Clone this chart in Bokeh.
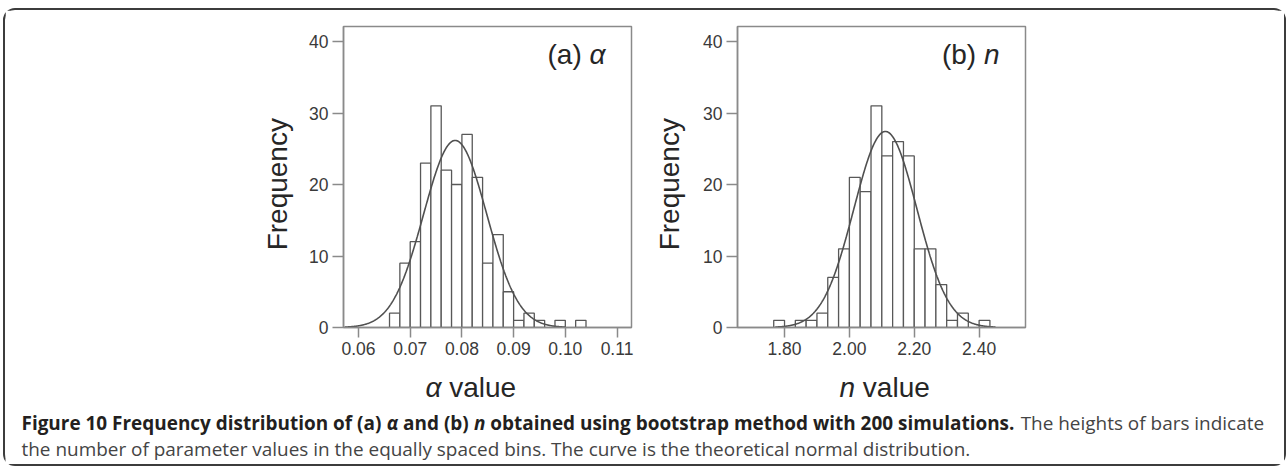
import glob
import os
import numpy as np
from bokeh.plotting import figure
from bokeh.layouts import column, row
from bokeh.models import Range1d, FixedTicker, NumeralTickFormatter, Label
from bokeh.embed import file_html
from bokeh.resources import INLINE

# ---------------- data ----------------
alpha_bin_edges = [0.066, 0.068, 0.070, 0.072, 0.074, 0.076, 0.078, 0.080, 0.082, 0.084,
                   0.086, 0.088, 0.090, 0.092, 0.094, 0.096, 0.098, 0.100, 0.102, 0.104]
alpha_counts = [2, 9, 12, 23, 31, 22, 20, 27, 21, 9, 13, 5, 1, 2, 1, 0, 1, 0, 1]
alpha_ticks = [0.06, 0.07, 0.08, 0.09, 0.10, 0.11]
alpha_mean = 0.0787
alpha_sd = 0.0061

n_bin_edges = [1.7667, 1.8000, 1.8333, 1.8667, 1.9000, 1.9333, 1.9667, 2.0000, 2.0333, 2.0667,
               2.1000, 2.1333, 2.1667, 2.2000, 2.2333, 2.2667, 2.3000, 2.3333, 2.3667, 2.4000, 2.4333]
n_counts = [1, 0, 1, 1, 2, 7, 11, 21, 19, 31, 24, 26, 24, 11, 11, 6, 1, 2, 0, 1]
n_ticks = [1.80, 2.00, 2.20, 2.40]
n_mean = 2.111
n_sd = 0.097

freq_ticks = [0, 10, 20, 30, 40]
n_simulations = 200

y_label = "Frequency"
caption_line1 = [
    ("Figure 10 Frequency distribution of (a) ", "bold"),
    ("α", "bold italic"),
    (" and (b) ", "bold"),
    ("n", "bold italic"),
    (" obtained using bootstrap method with 200 simulations.", "bold"),
    (" The heights of bars indicate", "normal"),
]
caption_line2 = [
    ("the number of parameter values in the equally spaced bins. The curve is the theoretical normal distribution.", "normal"),
]

# ---------------- styling / layout ----------------
FRAME_C = "#8a8a8a"
BAR_C = "#585858"
CURVE_C = "#505050"
TICK_LABEL_C = "#3a3a3a"
LABEL_C = "#262626"
CAP_BOLD_C = "#231f20"
CAP_REG_C = "#444444"
AX_FONT = "Liberation Sans"
CAP_FONT = "Open Sans"
CAP_TARGET_W = 1241.0

CONTENT_W = 1279
TOP_H = 355
BOT_H = 99
MB_TOP = 16
FRAME_H = 301
MB_BOTTOM = TOP_H - MB_TOP - FRAME_H
Y_TOP = 42.1
TITLE_SIZE = 28
XLABEL_SIZE = 28

FONT_DIRS = ["/usr/share/fonts", "/usr/local/share/fonts",
             os.path.expanduser("~/.fonts"), os.path.expanduser("~/.local/share/fonts")]


def find_font(*names):
    for d in FONT_DIRS:
        for n in names:
            hits = glob.glob(os.path.join(d, "**", n), recursive=True)
            if hits:
                return sorted(hits)[0]
    return None


FONT_FILES = {
    ("Liberation Sans", "normal"): find_font("LiberationSans-Regular.ttf"),
    ("Liberation Sans", "italic"): find_font("LiberationSans-Italic.ttf"),
    ("Open Sans", "normal"): find_font("OpenSans-Regular.ttf", "OpenSans-Regular.otf"),
    ("Open Sans", "bold"): find_font("OpenSans-Bold.ttf", "OpenSans-Bold.otf"),
    ("Open Sans", "bold italic"): find_font("OpenSans-BoldItalic.ttf", "OpenSans-BoldItalic.otf"),
}

try:
    from PIL import ImageFont
except Exception:  # pragma: no cover
    ImageFont = None


def text_width(text, font, style, size):
    path = FONT_FILES.get((font, style))
    if path and ImageFont is not None:
        try:
            f = ImageFont.truetype(path, int(round(size * 4)))
            return f.getlength(text) / 4.0
        except Exception:
            pass
    factor = 0.6 if "bold" in style else 0.53
    return factor * size * len(text)


def blank_fig(w, h):
    f = figure(width=w, height=h, x_range=Range1d(0, w), y_range=Range1d(h, 0),
               output_backend="svg", toolbar_location=None, x_axis_type=None, y_axis_type=None,
               min_border=0)
    f.outline_line_color = None
    f.xgrid.visible = False
    f.ygrid.visible = False
    f.background_fill_color = "white"
    f.border_fill_color = "white"
    return f


def make_hist(edges, counts, mean, sd, ticks, x_range, fig_w, mb_l, mb_r, tag, sym):
    p = figure(width=fig_w, height=TOP_H, x_range=Range1d(*x_range), y_range=Range1d(0, Y_TOP),
               output_backend="svg", toolbar_location=None,
               min_border_left=mb_l, min_border_right=mb_r,
               min_border_top=MB_TOP, min_border_bottom=MB_BOTTOM)
    p.background_fill_color = "white"
    p.border_fill_color = "white"
    p.outline_line_color = FRAME_C
    p.outline_line_width = 1.5
    p.xgrid.visible = False
    p.ygrid.visible = False

    left = np.array(edges[:-1], dtype=float)
    right = np.array(edges[1:], dtype=float)
    top = np.array(counts, dtype=float)
    m = top > 0
    p.quad(left=left[m], right=right[m], bottom=0, top=top[m],
           fill_color="white", line_color=BAR_C, line_width=1.3)

    # theoretical normal curve scaled to the histogram
    bw = (edges[-1] - edges[0]) / len(counts)
    xs = np.linspace(mean - 3.5 * sd, mean + 3.5 * sd, 400)
    ys = n_simulations * bw / (sd * np.sqrt(2 * np.pi)) * np.exp(-0.5 * ((xs - mean) / sd) ** 2)
    p.line(xs, ys, line_color=CURVE_C, line_width=1.6)

    xa = p.xaxis[0]
    ya = p.yaxis[0]
    xa.ticker = FixedTicker(ticks=ticks)
    xa.formatter = NumeralTickFormatter(format="0.00")
    ya.ticker = FixedTicker(ticks=freq_ticks)
    for ax, tick_out in ((xa, 10), (ya, 11)):
        ax.axis_line_color = FRAME_C
        ax.axis_line_width = 1.5
        ax.major_tick_line_color = FRAME_C
        ax.major_tick_line_width = 1.5
        ax.major_tick_out = tick_out
        ax.major_tick_in = 0
        ax.minor_tick_out = 0
        ax.minor_tick_in = 0
        ax.major_label_text_font = AX_FONT
        ax.major_label_text_font_size = "17.5px"
        ax.major_label_text_color = TICK_LABEL_C
        ax.major_label_standoff = 4

    # panel tag, e.g. "(a) α"
    ts = TITLE_SIZE
    w_sym = text_width(sym, AX_FONT, "italic", ts)
    w_sp = text_width(" ", AX_FONT, "normal", ts)
    p.add_layout(Label(x=x_range[1], y=Y_TOP, x_offset=-26, y_offset=-28, text=sym,
                       text_align="right", text_baseline="alphabetic", text_font=AX_FONT,
                       text_font_style="italic", text_font_size=f"{ts}px", text_color=LABEL_C))
    p.add_layout(Label(x=x_range[1], y=Y_TOP, x_offset=-26 - w_sym - w_sp, y_offset=-28,
                       text=f"({tag})", text_align="right", text_baseline="alphabetic",
                       text_font=AX_FONT, text_font_style="normal", text_font_size=f"{ts}px",
                       text_color=LABEL_C))
    return p


def freq_fig(w, cx, cy):
    f = blank_fig(w, TOP_H)
    f.add_layout(Label(x=cx, y=cy, text=y_label, angle=np.pi / 2, text_align="center",
                       text_baseline="middle", text_font=AX_FONT, text_font_size="28px",
                       text_color=LABEL_C))
    return f


f_a = freq_fig(292, 272, 186)
p_alpha = make_hist(alpha_bin_edges, alpha_counts, alpha_mean, alpha_sd, alpha_ticks,
                    (0.0571, 0.1128), 353, 46, 19, "a", "α")
f_b = freq_fig(43, 19, 186)
p_n = make_hist(n_bin_edges, n_counts, n_mean, n_sd, n_ticks,
                (1.655, 2.543), 591, 44, 259, "b", "n")

# ---------------- bottom: x-axis titles + caption ----------------
bot = blank_fig(CONTENT_W, BOT_H)


def add_axis_title(sym, x_left, baseline):
    w_sym = text_width(sym, AX_FONT, "italic", XLABEL_SIZE)
    w_sp = text_width(" ", AX_FONT, "normal", XLABEL_SIZE)
    bot.add_layout(Label(x=x_left, y=baseline, text=sym, text_align="left", text_baseline="alphabetic",
                         text_font=AX_FONT, text_font_style="italic",
                         text_font_size=f"{XLABEL_SIZE}px", text_color=LABEL_C))
    bot.add_layout(Label(x=x_left + w_sym + w_sp, y=baseline, text="value", text_align="left",
                         text_baseline="alphabetic", text_font=AX_FONT, text_font_style="normal",
                         text_font_size=f"{XLABEL_SIZE}px", text_color=LABEL_C))


add_axis_title("α", 420, 22)
add_axis_title("n", 834, 22)

# caption font size chosen so the first line spans the same width as in the reference
w_ref = sum(text_width(t, CAP_FONT, s, 16.0) for t, s in caption_line1)
CAP_SIZE = round(16.0 * CAP_TARGET_W / w_ref, 2)


def add_caption_line(pieces, x0, y):
    x = x0
    for text, style in pieces:
        lead = len(text) - len(text.lstrip(" "))
        base_style = "normal" if style == "normal" else "bold"
        w_lead = text_width(" " * lead, CAP_FONT, base_style, CAP_SIZE) if lead else 0
        body = text.strip(" ")
        col = CAP_REG_C if style == "normal" else CAP_BOLD_C
        bot.add_layout(Label(x=x + w_lead, y=y, text=body, text_align="left", text_baseline="middle",
                             text_font=CAP_FONT, text_font_style=style,
                             text_font_size=f"{CAP_SIZE}px", text_color=col))
        x += text_width(text, CAP_FONT, style, CAP_SIZE)


add_caption_line(caption_line1, 16, 57)
add_caption_line(caption_line2, 16, 83)

root = column(row(f_a, p_alpha, f_b, p_n), bot,
              styles={"border": "2px solid #3c3c3c", "border-radius": "12px",
                      "margin": "8px 0px 0px 3px"})

open("out.html", "w").write(file_html(root, INLINE))
